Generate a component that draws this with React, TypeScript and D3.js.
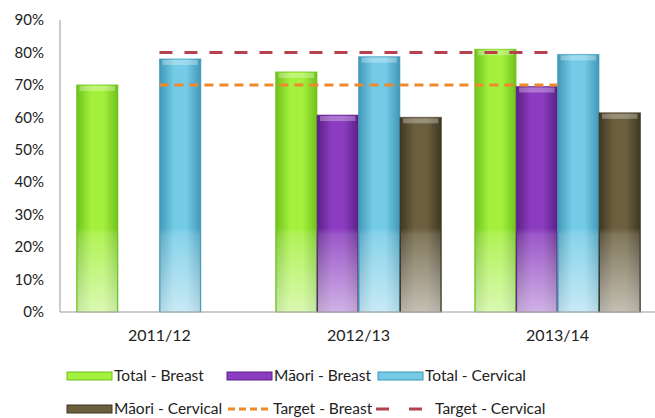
import * as d3 from "d3";

const years = ["2011/12", "2012/13", "2013/14"];
const seriesNames = ["Total - Breast", "Māori - Breast", "Total - Cervical", "Māori - Cervical"];
const totalBreast = [70, 74, 81];
const maoriBreast = [null, 60.7, 69.5];
const totalCervical = [78, 78.7, 79.4];
const maoriCervical = [null, 60, 61.4];
const targetBreast = [70, 70, 70];
const targetCervical = [80, 80, 80];
const yTicks = [0, 10, 20, 30, 40, 50, 60, 70, 80, 90];

const W = 655;
const H = 418;
const m = { left: 60, right: 657, top: 20, bottom: 312 };
const font = "Lato, 'Open Sans', sans-serif";

const palettes = [
  { id: "g0", edge: "#6fc21c", mid: "#a4f03c" },
  { id: "g1", edge: "#5b1f86", mid: "#8b3cc0" },
  { id: "g2", edge: "#3f98b8", mid: "#74cbe6" },
  { id: "g3", edge: "#3f3722", mid: "#6b5f3e" },
];

export default function App() {
  const values = [totalBreast, maoriBreast, totalCervical, maoriCervical];
  const x = d3.scaleBand<string>().domain(years).range([m.left, m.right]).paddingInner(0.167).paddingOuter(0.083);
  const xs = d3.scaleBand<number>().domain([0, 1, 2, 3]).range([0, x.bandwidth()]);
  const y = d3.scaleLinear().domain([0, 90]).range([m.bottom, m.top]);
  const cx = (yr: string) => (x(yr) as number) + x.bandwidth() / 2;
  const line = d3.line<number>().x((_, i) => cx(years[i])).y((d) => y(d));
  const fadeTop = 228;

  return (
    <svg width={W} height={H} style={{ position: "absolute", left: 0, top: 0, background: "#fff" }}>
      <defs>
        {palettes.map((p) => (
          <linearGradient key={p.id} id={p.id} x1="0" x2="1" y1="0" y2="0">
            <stop offset="0" stopColor={p.edge} />
            <stop offset="0.35" stopColor={p.mid} />
            <stop offset="0.65" stopColor={p.mid} />
            <stop offset="1" stopColor={p.edge} />
          </linearGradient>
        ))}
        <linearGradient id="fade" gradientUnits="userSpaceOnUse" x1="0" x2="0" y1={fadeTop} y2={m.bottom}>
          <stop offset="0" stopColor="#fff" stopOpacity={0} />
          <stop offset="0.08" stopColor="#fff" stopOpacity={0.15} />
          <stop offset="1" stopColor="#fff" stopOpacity={0.6} />
        </linearGradient>
      </defs>

      {yTicks.map((t) => (
        <text key={t} x={44} y={y(t)} dy="0.35em" textAnchor="end" fontFamily={font} fontSize={15} fill="#222">
          {t}%
        </text>
      ))}
      <line x1={m.left} x2={m.left} y1={m.top} y2={m.bottom} stroke="#999" />

      {values.map((arr, s) =>
        arr.map((v, i) => {
          if (v == null) return null;
          const bx = (x(years[i]) as number) + (xs(s) as number);
          const bw = xs.bandwidth();
          const top = y(v);
          const ft = Math.max(top, fadeTop);
          return (
            <g key={`${s}-${i}`}>
              <rect x={bx} y={top} width={bw} height={m.bottom - top} fill={`url(#${palettes[s].id})`} stroke={palettes[s].edge} strokeOpacity={0.6} />
              <rect x={bx + 1} y={ft} width={bw - 2} height={m.bottom - ft} fill="url(#fade)" />
              <rect x={bx + 3} y={top + 1} width={bw - 6} height={5} fill="#fff" opacity={0.3} />
            </g>
          );
        })
      )}

      <path d={line(targetBreast) || ""} fill="none" stroke="#f0882c" strokeWidth={3} strokeDasharray="9 6" />
      <path d={line(targetCervical) || ""} fill="none" stroke="#b4414c" strokeWidth={3} strokeDasharray="13 12" />

      <line x1={m.left} x2={W} y1={m.bottom} y2={m.bottom} stroke="#999" />
      {years.map((yr) => (
        <text key={yr} x={cx(yr)} y={341} textAnchor="middle" fontFamily={font} fontSize={16} fill="#222">
          {yr}
        </text>
      ))}

      {/* legend */}
      {[
        { sx: 67, sy: 376, s: 0 },
        { sx: 227, sy: 376, s: 1 },
        { sx: 378, sy: 376, s: 2 },
        { sx: 67, sy: 409, s: 3 },
      ].map((l) => (
        <g key={l.s}>
          <rect x={l.sx} y={l.sy - 4} width={45} height={8} fill={palettes[l.s].mid} stroke={palettes[l.s].edge} />
          <text x={l.sx + 47} y={l.sy} dy="0.35em" fontFamily={font} fontSize={15.5} fill="#222">
            {seriesNames[l.s]}
          </text>
        </g>
      ))}
      <line x1={228} x2={271} y1={409} y2={409} stroke="#f0882c" strokeWidth={3} strokeDasharray="7 4" />
      <text x={273} y={409} dy="0.35em" fontFamily={font} fontSize={15.5} fill="#222">Target - Breast</text>
      <line x1={376} x2={422} y1={409} y2={409} stroke="#b4414c" strokeWidth={3} strokeDasharray="13 20" />
      <text x={435} y={409} dy="0.35em" fontFamily={font} fontSize={15.5} fill="#222">Target - Cervical</text>
    </svg>
  );
}
